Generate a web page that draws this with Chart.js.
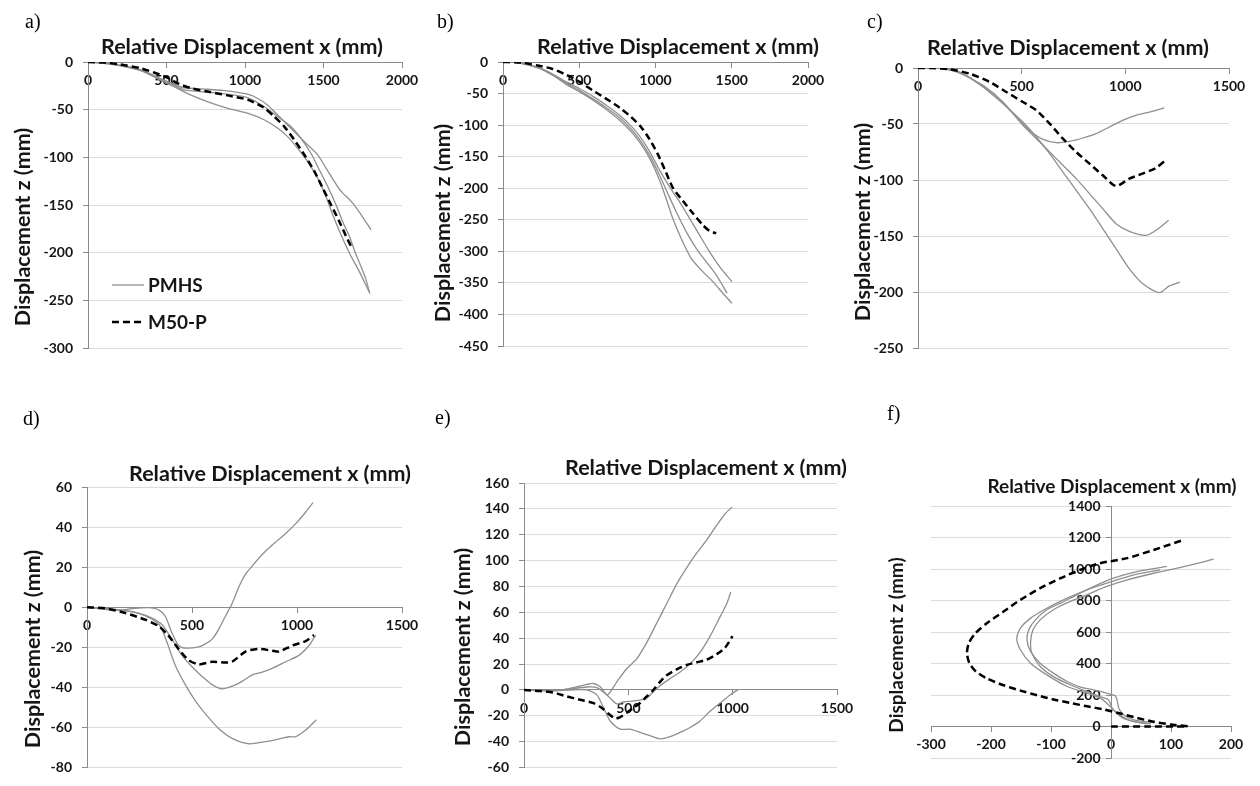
<!DOCTYPE html>
<html lang="en">
<head>
<meta charset="UTF-8">
<title>Relative displacement x / z</title>
<script src="https://cdn.jsdelivr.net/npm/chart.js"></script>
<style>
  body { margin: 0; background: #fff; }
  #page { position: relative; width: 1260px; height: 786px; overflow: hidden; background: #fff; }
  .panel { position: absolute; }
  .tag { position: absolute; font-family: "Liberation Serif", "Times New Roman", serif; font-size: 20px; line-height: 20px; color: #000; }
</style>
</head>
<body>
<div id="page">
  <div class="panel" style="left:0;top:0;width:440px;height:380px"><canvas id="chartA"></canvas></div>
  <div class="panel" style="left:420px;top:0;width:440px;height:380px"><canvas id="chartB"></canvas></div>
  <div class="panel" style="left:840px;top:0;width:420px;height:380px"><canvas id="chartC"></canvas></div>
  <div class="panel" style="left:0;top:380px;width:440px;height:406px"><canvas id="chartD"></canvas></div>
  <div class="panel" style="left:420px;top:380px;width:450px;height:406px"><canvas id="chartE"></canvas></div>
  <div class="panel" style="left:840px;top:380px;width:420px;height:406px"><canvas id="chartF"></canvas></div>
  <div class="tag" style="left:25px;top:11px">a)</div>
  <div class="tag" style="left:437px;top:11px">b)</div>
  <div class="tag" style="left:867px;top:11px">c)</div>
  <div class="tag" style="left:23px;top:408px">d)</div>
  <div class="tag" style="left:435px;top:407px">e)</div>
  <div class="tag" style="left:887px;top:403px">f)</div>
</div>

<script>
// trajectories as [x, z] pairs in mm; M50-P is the model, PMHS are the three specimens
const aM50 = [[0,0],[100,-0.5],[200,-2.5],[334,-6.5],[420,-11],[500,-16],[580,-23],[660,-27.5],[760,-31],[887,-35],[1015,-39.5],[1121,-48],[1185,-57],[1249,-67.5],[1313,-81.5],[1377,-97],[1441,-114.5],[1494,-132],[1547,-149.5],[1600,-167],[1643,-182.5],[1685,-196.5]];
const aPmhs1 = [[0,0],[150,-2],[334,-8],[462,-17.5],[550,-23.5],[611,-27],[760,-28.6],[887,-30.3],[1015,-33.8],[1079,-38],[1143,-45],[1207,-55.4],[1270,-65.8],[1334,-76.3],[1398,-86.8],[1462,-97.2],[1515,-111],[1568,-125],[1611,-135.5],[1675,-146],[1739,-160],[1802,-176]];
const aPmhs2 = [[0,0],[150,-2],[334,-8.5],[462,-18],[550,-24.5],[611,-29.3],[760,-31.7],[887,-33.8],[1015,-37.3],[1121,-46.7],[1207,-57.1],[1292,-67.6],[1355,-79.8],[1419,-95.5],[1473,-113],[1526,-130.3],[1579,-149.5],[1621,-167],[1664,-182.6],[1700,-199],[1740,-215],[1770,-228],[1795,-243]];
const aPmhs3 = [[0,0],[150,-2.5],[334,-9],[462,-19],[547,-25.8],[653,-34.5],[760,-41.5],[887,-48.4],[1015,-53.7],[1121,-60.6],[1207,-69.3],[1270,-78],[1334,-90.2],[1398,-104.2],[1462,-121.6],[1515,-140.8],[1558,-160],[1611,-181],[1664,-200],[1734,-221.7],[1790,-241]];

const bM50 = [[0,0],[120,-1],[237,-6],[325,-11],[412,-20],[500,-31],[588,-45],[675,-58],[763,-72],[839,-87],[905,-103],[960,-122],[1015,-146],[1069,-175],[1113,-199],[1179,-220],[1245,-239.7],[1310,-258.2],[1354,-267.7],[1398,-271.4]];
const bPmhs1 = [[0,0],[100,-1],[237,-9],[325,-19],[412,-31],[500,-42],[588,-54],[675,-68],[763,-84],[850,-104],[916,-124],[971,-146],[1026,-171],[1091,-197.5],[1157,-221.2],[1223,-247.6],[1288,-274],[1354,-300.4],[1420,-324.2],[1501,-348]];
const bPmhs2 = [[0,0],[100,-1],[237,-9.5],[325,-20],[412,-33],[500,-45],[588,-58],[675,-72],[763,-88],[850,-109],[916,-130],[971,-152],[1026,-179],[1080,-208],[1135,-237],[1201,-268.8],[1267,-295.2],[1332,-316.3],[1398,-337.4],[1470,-366.4]];
const bPmhs3 = [[0,0],[100,-1.2],[237,-10],[325,-21],[412,-35],[500,-47],[588,-60],[675,-75],[763,-92],[850,-113],[916,-134],[971,-157],[1026,-187],[1069,-216],[1113,-247.6],[1168,-279.3],[1234,-311],[1310,-332.1],[1376,-348],[1442,-366.4],[1501,-382.3]];

const cM50 = [[0,0],[58,0],[154,-1.2],[250,-5.1],[346,-12.5],[426,-21.4],[506,-30.4],[571,-37.8],[635,-49.7],[699,-63.1],[763,-75],[827,-85.4],[891,-95.8],[955,-105.4],[1019,-98.8],[1083,-94.3],[1148,-89.3],[1188,-83.3]];
const cPmhs1 = [[0,0],[100,0],[160,-1.5],[218,-5],[282,-12.5],[346,-21.4],[410,-31.8],[474,-43.7],[538,-55.7],[603,-63.7],[667,-66.7],[731,-65.5],[795,-62.5],[859,-58.6],[923,-52.7],[987,-46.7],[1051,-42.3],[1116,-39.3],[1188,-35.7]];
const cPmhs2 = [[0,0],[100,0],[160,-2],[218,-6],[314,-15.5],[410,-30.4],[506,-51.2],[571,-63.1],[635,-75],[699,-86.9],[763,-98.8],[827,-112.2],[891,-125.6],[955,-139],[1019,-145.8],[1100,-149.4],[1148,-144.9],[1209,-136]];
const cPmhs3 = [[0,0],[100,0],[160,-2],[218,-5.5],[314,-17],[410,-31.8],[506,-48.2],[571,-61.6],[635,-76.5],[699,-92.9],[763,-109.2],[827,-125.6],[891,-143.4],[955,-161.3],[1019,-179.2],[1083,-192.5],[1164,-200.6],[1212,-194.6],[1263,-191.1]];

const dM50 = [[0,0],[86,-0.5],[182,-2.9],[277,-6.2],[341,-9.4],[389,-14.3],[436,-20.8],[484,-26.4],[532,-28.5],[596,-27.2],[659,-27.6],[691,-27.2],[755,-22.1],[818,-20.8],[882,-21.7],[914,-22.1],[978,-19.1],[1041,-16.9],[1081,-13.9]];
const dPmhs1 = [[0,0],[86,-1],[150,-1.6],[229,-0.5],[293,-0.2],[341,-1.3],[373,-4.5],[404,-12.7],[436,-19.1],[468,-20.4],[532,-19.8],[564,-18.3],[596,-15.9],[627,-11],[659,-4.5],[691,1.9],[723,10.1],[755,16.5],[787,20.6],[834,26.3],[882,31.1],[946,36.8],[994,41.7],[1041,47.4],[1076,52.2]];
const dPmhs2 = [[0,0],[150,-1.3],[245,-2.9],[309,-5.4],[357,-8.6],[404,-15.9],[452,-24],[500,-29.7],[548,-34.5],[596,-38.6],[643,-40.7],[691,-39.4],[739,-37],[787,-33.7],[834,-32.4],[882,-30.5],[946,-27.2],[1009,-24],[1057,-19.1],[1089,-13.9]];
const dPmhs3 = [[0,0],[150,-1.3],[245,-3],[309,-5.8],[349,-9.4],[381,-17.5],[420,-28.9],[468,-38.6],[516,-46.7],[564,-53.2],[627,-60.5],[691,-65.4],[771,-68.1],[850,-67],[914,-65.7],[962,-64.6],[994,-64.6],[1041,-61.3],[1092,-56.1]];

const eM50 = [[0,0],[77,-0.8],[141,-2],[205,-5],[269,-7.6],[333,-10.1],[373,-13.9],[405,-18.4],[437,-21.9],[461,-20.9],[492,-17.7],[524,-13.9],[556,-10.1],[588,-5],[620,0],[652,6.3],[684,11.3],[732,15.9],[780,19.4],[828,21.4],[876,23.5],[924,27.7],[964,32.8],[999,41.6]];
const ePmhs1 = [[0,0],[141,-0.5],[221,1.3],[301,4.3],[333,5],[365,2.5],[400,-3.8],[445,6.3],[492,16.4],[540,24],[588,36.6],[636,51.7],[684,66.8],[732,82],[780,94.6],[828,105.9],[876,116],[924,127.4],[964,136.2],[996,141.2]];
const ePmhs2 = [[0,0],[141,-0.5],[221,0.8],[301,2.3],[349,1.8],[397,-3.8],[445,-10.8],[477,-9.3],[540,-8.3],[588,-6.3],[620,-1.3],[652,3.3],[700,8.8],[748,13.9],[796,20.2],[844,29],[892,41.6],[940,56.7],[972,66.8],[991,75.7]];
const ePmhs3 = [[0,0],[141,-0.5],[221,0],[301,0],[349,-3.8],[389,-16.4],[413,-24],[461,-30.3],[508,-30.3],[556,-32.8],[604,-35.3],[652,-37.8],[700,-36.1],[748,-32.8],[796,-29],[844,-24],[892,-16.4],[940,-10.1],[988,-3.8],[1028,0.5]];

const fM50 = [[0,0],[64,0],[128,1],[100,12],[71,30],[43,55],[16,82],[-12,108],[-40,128],[-68,150],[-96,172],[-123,198],[-151,228],[-179,262],[-207,305],[-225,349],[-236,402],[-240,466],[-237,529],[-226,592],[-207,656],[-179,730],[-151,804],[-118,878],[-84,942],[-51,995],[-18,1037],[27,1069],[71,1121],[118,1181]];
const fPmhs1 = [[71,25],[38,42],[21,74],[13,116],[10,169],[7,195],[-7,212],[-29,233],[-51,250],[-73,286],[-96,339],[-118,402],[-134,476],[-140,550],[-137,614],[-126,677],[-107,741],[-84,783],[-57,836],[-29,889],[4,942],[43,984],[93,1016]];
const fPmhs2 = [[66,17],[38,32],[16,63],[2,116],[-4,169],[-18,190],[-40,222],[-68,265],[-96,317],[-118,381],[-132,466],[-134,540],[-130,614],[-118,677],[-96,741],[-68,794],[-40,836],[-7,889],[27,931],[71,973],[127,1020],[171,1062]];
const fPmhs3 = [[60,17],[32,38],[10,85],[-7,148],[-18,180],[-40,212],[-73,254],[-107,328],[-134,402],[-151,487],[-157,561],[-151,624],[-134,688],[-107,751],[-73,815],[-40,868],[-7,910],[38,963],[82,995]];

const xTitle = 'Relative Displacement x (mm)';
const yTitle = 'Displacement z (mm)';

const FONT = 'Lato, "Open Sans", sans-serif';
const PMHS_COLOR = '#8f8f8f';
const AXIS_COLOR = '#8a8a8a';
const GRID_COLOR = '#dcdcdc';
const TEXT_COLOR = '#161616';

function series(label, points, model) {
    return {
        label: label,
        data: points.map(([x, z]) => ({ x: x, y: z })),
        showLine: true,
        pointRadius: 0,
        fill: false,
        borderColor: model ? '#000' : PMHS_COLOR,
        borderWidth: model ? 2.5 : 1.3,
        borderDash: model ? [7, 4] : [],
        tension: 0.25
    };
}

// axis titles and the small legend are drawn straight onto the canvas
const axisTitles = {
    id: 'axisTitles',
    afterDraw(chart, args, opts) {
        const ctx = chart.ctx;
        ctx.save();
        ctx.fillStyle = TEXT_COLOR;
        ctx.textAlign = 'center';
        ctx.textBaseline = 'middle';
        ctx.font = 'bold ' + opts.size + 'px ' + FONT;
        ctx.fillText(xTitle, opts.xAt[0], opts.xAt[1]);
        ctx.save();
        ctx.translate(opts.yAt[0], opts.yAt[1]);
        ctx.rotate(-Math.PI / 2);
        ctx.fillText(yTitle, 0, 0);
        ctx.restore();

        if (opts.legend) {
            const rows = [
                { text: 'PMHS', ds: chart.data.datasets[1], y: 285 },
                { text: 'M50-P', ds: chart.data.datasets[0], y: 322 }
            ];
            ctx.textAlign = 'left';
            ctx.font = 'bold 19px ' + FONT;
            rows.forEach(r => {
                ctx.beginPath();
                ctx.strokeStyle = r.ds.borderColor;
                ctx.lineWidth = r.ds.borderWidth;
                ctx.setLineDash(r.ds.borderDash);
                ctx.moveTo(112, r.y);
                ctx.lineTo(144, r.y);
                ctx.stroke();
                ctx.fillText(r.text, 148, r.y + 1);
            });
        }
        ctx.restore();
    }
};

function buildChart(p) {
    const tickFont = { family: FONT, size: 14, weight: 'bold' };
    const yScale = {
        type: 'linear',
        min: p.yMin, max: p.yMax,
        ticks: { stepSize: p.yStep, font: tickFont, color: TEXT_COLOR, padding: 10, callback: v => String(v) },
        grid: { color: GRID_COLOR, tickColor: AXIS_COLOR, tickLength: 5 },
        border: { color: AXIS_COLOR }
    };
    if (p.yAxisWidth) {
        yScale.position = 'left';
        yScale.afterFit = s => { s.width = p.yAxisWidth; };
    } else {
        // axis crosses at x = 0; labels sit right against it, so pad them
        yScale.position = { x: 0 };
        yScale.ticks.callback = v => v + '\u2003';
    }

    const xScale = {
        type: 'linear',
        position: { y: 0 },
        min: p.xMin, max: p.xMax,
        ticks: { stepSize: p.xStep, font: tickFont, color: TEXT_COLOR, padding: 5, callback: v => String(v) },
        grid: { drawOnChartArea: false, color: AXIS_COLOR, tickColor: AXIS_COLOR, tickLength: 5 },
        border: { color: AXIS_COLOR }
    };

    const pad = Object.assign({}, p.pad);
    if (p.yAxisWidth) pad.left = p.pad.left - p.yAxisWidth;

    return new Chart(document.getElementById(p.id), {
        type: 'scatter',
        data: {
            datasets: [
                series('M50-P', p.model, true),
                series('PMHS', p.pmhs[0], false),
                series('PMHS', p.pmhs[1], false),
                series('PMHS', p.pmhs[2], false)
            ]
        },
        options: {
            responsive: true,
            maintainAspectRatio: false,
            animation: false,
            layout: { padding: pad },
            scales: { x: xScale, y: yScale },
            plugins: {
                legend: { display: false },
                tooltip: { enabled: false },
                axisTitles: { size: p.titleSize, xAt: p.xAt, yAt: p.yAt, legend: !!p.legend }
            }
        },
        plugins: [axisTitles]
    });
}

const panels = [
    { id: 'chartA', model: aM50, pmhs: [aPmhs1, aPmhs2, aPmhs3], xMin: 0, xMax: 2000, xStep: 500, yMin: -300, yMax: 0, yStep: 50,
      pad: { left: 88, top: 62, right: 38, bottom: 32 }, yAxisWidth: 80, titleSize: 21.5, xAt: [242, 47], yAt: [23, 227], legend: true },
    { id: 'chartB', model: bM50, pmhs: [bPmhs1, bPmhs2, bPmhs3], xMin: 0, xMax: 2000, xStep: 500, yMin: -450, yMax: 0, yStep: 50,
      pad: { left: 83, top: 62, right: 52, bottom: 34 }, yAxisWidth: 75, titleSize: 21.5, xAt: [258, 47], yAt: [23, 223] },
    { id: 'chartC', model: cM50, pmhs: [cPmhs1, cPmhs2, cPmhs3], xMin: 0, xMax: 1500, xStep: 500, yMin: -250, yMax: 0, yStep: 50,
      pad: { left: 78, top: 68, right: 31, bottom: 32 }, yAxisWidth: 70, titleSize: 21.5, xAt: [228, 48], yAt: [23, 222] },
    { id: 'chartD', model: dM50, pmhs: [dPmhs1, dPmhs2, dPmhs3], xMin: 0, xMax: 1500, xStep: 500, yMin: -80, yMax: 60, yStep: 20,
      pad: { left: 87, top: 107, right: 38, bottom: 11 }, yAxisWidth: 79, titleSize: 21.5, xAt: [270, 94], yAt: [33, 269] },
    { id: 'chartE', model: eM50, pmhs: [ePmhs1, ePmhs2, ePmhs3], xMin: 0, xMax: 1500, xStep: 500, yMin: -60, yMax: 160, yStep: 20,
      pad: { left: 104, top: 103, right: 33, bottom: 12 }, yAxisWidth: 96, titleSize: 21.5, xAt: [286, 88], yAt: [43, 267] },
    { id: 'chartF', model: fM50, pmhs: [fPmhs1, fPmhs2, fPmhs3], xMin: -300, xMax: 200, xStep: 100, yMin: -200, yMax: 1400, yStep: 200,
      pad: { left: 91, top: 126, right: 29, bottom: 28 }, titleSize: 19, xAt: [272, 107], yAt: [57, 265] }
];

panels.forEach(buildChart);
</script>
</body>
</html>
